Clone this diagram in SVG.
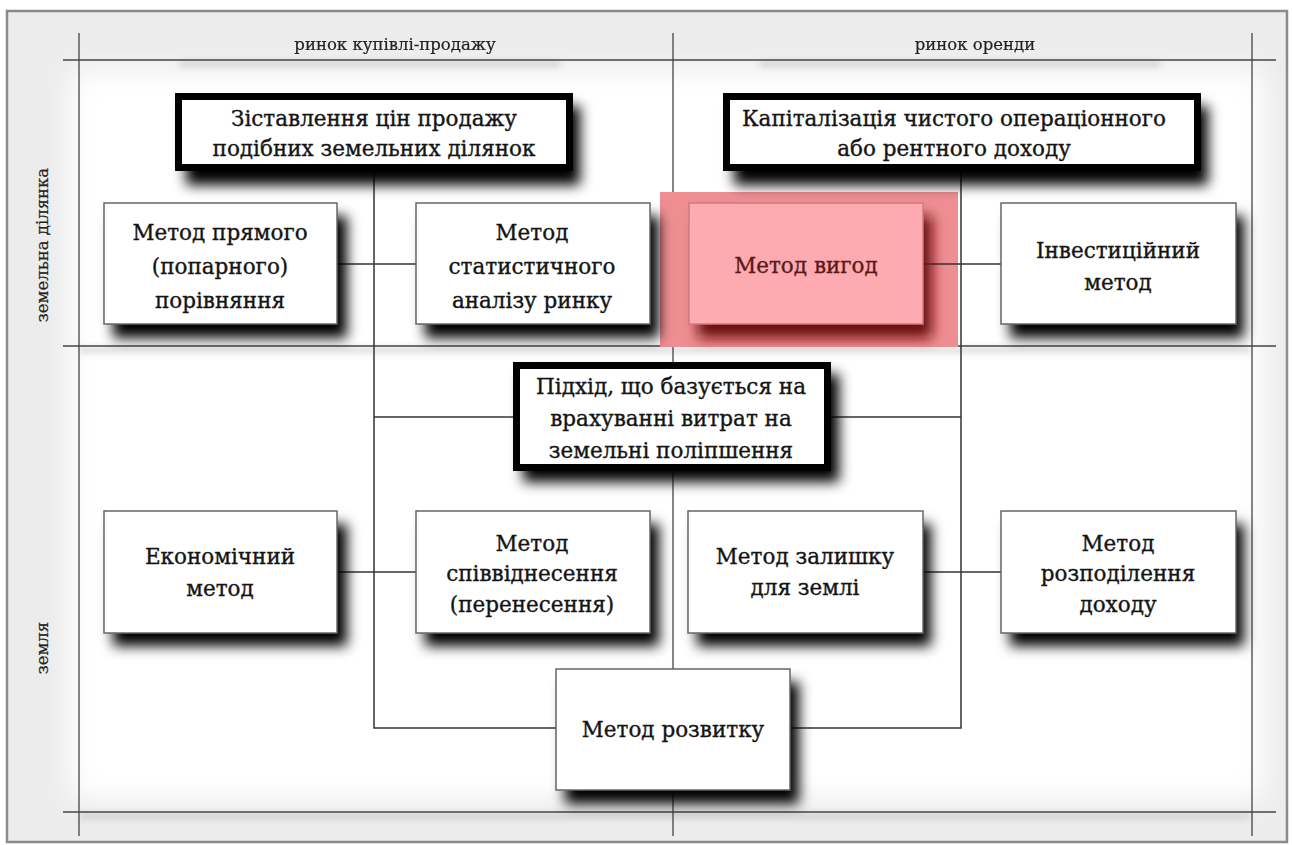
<svg xmlns="http://www.w3.org/2000/svg" width="1292" height="845" viewBox="0 0 1292 845">
<style>
.lbl{font-family:"DejaVu Serif",serif;font-size:21.5px;fill:#141414;stroke:#141414;stroke-width:0.35;text-anchor:middle}
.hdr{font-family:"DejaVu Serif",serif;font-size:16.5px;fill:#222;stroke:#222;stroke-width:0.2;text-anchor:middle}
.box{fill:#fff;stroke:#666;stroke-width:1.5}
.tbox{fill:#fff;stroke:#000;stroke-width:7}
.grid{stroke:#444;stroke-width:1.3;fill:none}
.gridS{stroke:#999;stroke-width:6;fill:none;opacity:0.35}
.conn{stroke:#333;stroke-width:1.5;fill:none}
.shd{fill:#000}
</style>
<defs>
<filter id="sh" x="-20%" y="-20%" width="150%" height="160%">
<feGaussianBlur stdDeviation="6.5"/>
</filter>
<filter id="soft" x="-10%" y="-10%" width="120%" height="120%">
<feGaussianBlur stdDeviation="14"/>
</filter>
<filter id="lineblur" x="-5%" y="-5%" width="110%" height="110%">
<feGaussianBlur stdDeviation="3"/>
</filter>
</defs>
<rect x="0" y="0" width="1292" height="845" fill="#fff"/>
<g id="frame">
<rect x="7" y="11" width="1280" height="831" fill="#ececec" stroke="#8a8a8a" stroke-width="2.5"/>
<rect x="70" y="70" width="1195" height="730" fill="#fff" filter="url(#soft)"/>
</g>
<g id="grid">
<g filter="url(#lineblur)">
<line class="gridS" x1="180" y1="64" x2="560" y2="64"/>
<line class="gridS" x1="760" y1="64" x2="1160" y2="64"/>
<line class="gridS" x1="80" y1="350" x2="1250" y2="350"/>
<line class="gridS" x1="80" y1="816" x2="1250" y2="816"/>
</g>
<line class="grid" x1="79" y1="33" x2="79" y2="836"/>
<line class="grid" x1="673" y1="33" x2="673" y2="836"/>
<line class="grid" x1="1252" y1="33" x2="1252" y2="836"/>
<line class="grid" x1="63" y1="60" x2="1276" y2="60"/>
<line class="grid" x1="63" y1="346" x2="1276" y2="346"/>
<line class="grid" x1="63" y1="812" x2="1276" y2="812"/>
</g>
<g id="headers">
<text class="hdr" x="395" y="50">ринок купівлі-продажу</text>
<text class="hdr" x="975" y="50">ринок оренди</text>
<text class="hdr" transform="translate(48,245) rotate(-90)">земельна ділянка</text>
<text class="hdr" transform="translate(48,648) rotate(-90)">земля</text>
</g>
<g id="highlight">
<rect x="660" y="192" width="298" height="155" fill="#ee8e93"/>
</g>
<g id="connectors">
<polyline class="conn" points="374,170 374,728 556,728"/>
<polyline class="conn" points="961,170 961,728 790,728"/>
<line class="conn" x1="337" y1="264" x2="416" y2="264"/>
<line class="conn" x1="923" y1="264" x2="1001" y2="264"/>
<line class="conn" x1="374" y1="417" x2="513" y2="417"/>
<line class="conn" x1="828" y1="417" x2="961" y2="417"/>
<line class="conn" x1="337" y1="572" x2="416" y2="572"/>
<line class="conn" x1="923" y1="572" x2="1001" y2="572"/>
</g>
<g id="n1">
<rect class="shd" x="186" y="106" width="394" height="79" filter="url(#sh)"/>
<rect class="tbox" x="178.5" y="96.5" width="391" height="71"/>
<text class="lbl" x="374" y="126">Зіставлення цін продажу</text>
<text class="lbl" x="374" y="156">подібних земельних ділянок</text>
</g>
<g id="n2">
<rect class="shd" x="734" y="106" width="474" height="79" filter="url(#sh)"/>
<rect class="tbox" x="726.5" y="96.5" width="471" height="71"/>
<text class="lbl" x="954" y="126">Капіталізація чистого операціонного</text>
<text class="lbl" x="954" y="156">або рентного доходу</text>
</g>
<g id="n3">
<rect class="shd" x="113" y="216" width="234" height="122" filter="url(#sh)"/>
<rect class="box" x="104" y="203" width="233" height="121"/>
<text class="lbl" x="220" y="240">Метод прямого</text>
<text class="lbl" x="220" y="274">(попарного)</text>
<text class="lbl" x="220" y="308">порівняння</text>
</g>
<g id="n4">
<rect class="shd" x="425" y="216" width="234" height="122" filter="url(#sh)"/>
<rect class="box" x="416" y="203" width="234" height="121"/>
<text class="lbl" x="532" y="240">Метод</text>
<text class="lbl" x="532" y="274">статистичного</text>
<text class="lbl" x="532" y="308">аналізу ринку</text>
</g>
<g id="n5">
<rect x="698" y="216" width="234" height="122" fill="#6a0a0a" filter="url(#sh)"/>
<rect x="689" y="203" width="234" height="121" fill="#fdabb1" stroke="#d07a80" stroke-width="1.5"/>
<text class="lbl" x="806" y="273" style="fill:#5a1a1a;stroke:#5a1a1a">Метод вигод</text>
</g>
<g id="n6">
<rect class="shd" x="1010" y="216" width="234" height="122" filter="url(#sh)"/>
<rect class="box" x="1001" y="203" width="235" height="121"/>
<text class="lbl" x="1118" y="258">Інвестиційний</text>
<text class="lbl" x="1118" y="290">метод</text>
</g>
<g id="n7">
<rect class="shd" x="523" y="374" width="316" height="108" filter="url(#sh)"/>
<rect class="tbox" x="516.5" y="365.5" width="311" height="102"/>
<text class="lbl" x="671" y="394">Підхід, що базується на</text>
<text class="lbl" x="671" y="426">врахуванні витрат на</text>
<text class="lbl" x="671" y="458">земельні поліпшення</text>
</g>
<g id="n8">
<rect class="shd" x="113" y="524" width="234" height="122" filter="url(#sh)"/>
<rect class="box" x="104" y="511" width="233" height="122"/>
<text class="lbl" x="220" y="564">Економічний</text>
<text class="lbl" x="220" y="596">метод</text>
</g>
<g id="n9">
<rect class="shd" x="425" y="524" width="234" height="122" filter="url(#sh)"/>
<rect class="box" x="416" y="511" width="234" height="122"/>
<text class="lbl" x="532" y="551">Метод</text>
<text class="lbl" x="532" y="581">співвіднесення</text>
<text class="lbl" x="532" y="612">(перенесення)</text>
</g>
<g id="n10">
<rect class="shd" x="697" y="524" width="234" height="122" filter="url(#sh)"/>
<rect class="box" x="688" y="511" width="235" height="122"/>
<text class="lbl" x="805" y="564">Метод залишку</text>
<text class="lbl" x="805" y="595">для землі</text>
</g>
<g id="n11">
<rect class="shd" x="1010" y="524" width="234" height="122" filter="url(#sh)"/>
<rect class="box" x="1001" y="511" width="235" height="122"/>
<text class="lbl" x="1118" y="551">Метод</text>
<text class="lbl" x="1118" y="581">розподілення</text>
<text class="lbl" x="1118" y="612">доходу</text>
</g>
<g id="n12">
<rect class="shd" x="565" y="682" width="234" height="122" filter="url(#sh)"/>
<rect class="box" x="556" y="669" width="234" height="121"/>
<text class="lbl" x="673" y="737">Метод розвитку</text>
</g>
</svg>
